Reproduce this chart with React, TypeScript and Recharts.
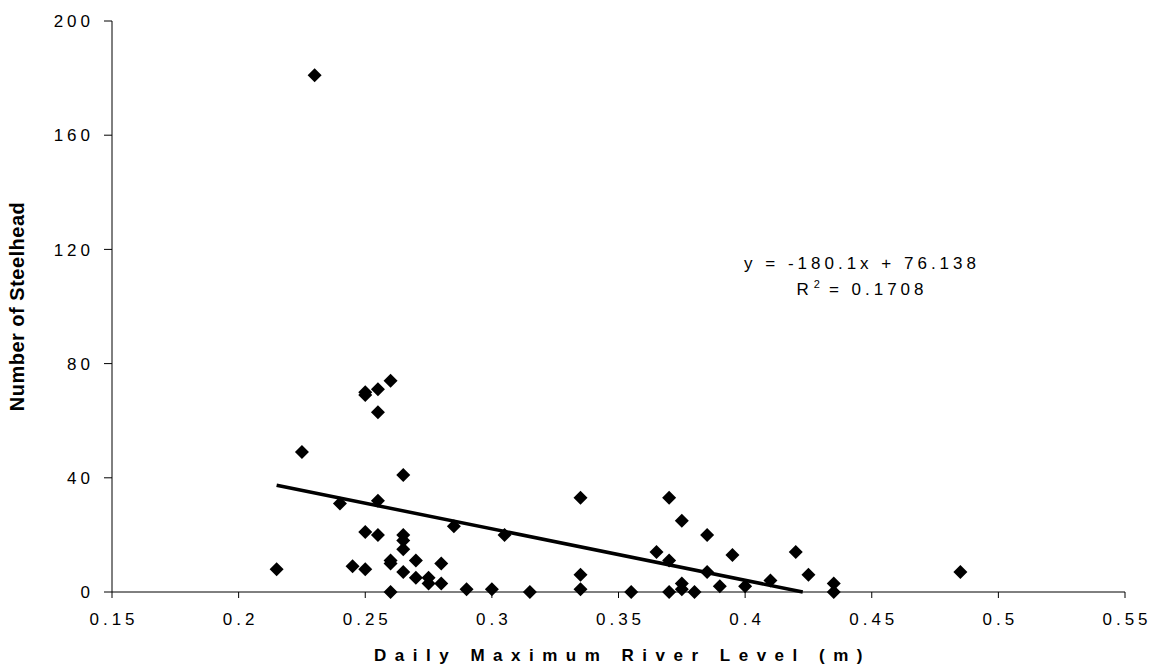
import React from 'react';
import { ScatterChart, Scatter, XAxis, YAxis, Label } from 'recharts';

// daily max river level (m) vs number of steelhead, one entry per day
const levels = [
  0.215, 0.225, 0.23, 0.24, 0.245, 0.25, 0.25, 0.25, 0.25, 0.255,
  0.255, 0.255, 0.255, 0.26, 0.26, 0.26, 0.26, 0.265, 0.265, 0.265,
  0.265, 0.265, 0.27, 0.27, 0.275, 0.275, 0.28, 0.28, 0.285, 0.29,
  0.3, 0.305, 0.315, 0.335, 0.335, 0.335, 0.355, 0.365, 0.37, 0.37,
  0.37, 0.375, 0.375, 0.375, 0.38, 0.385, 0.385, 0.39, 0.395, 0.4,
  0.41, 0.42, 0.425, 0.435, 0.435, 0.485,
];
const counts = [
  8, 49, 181, 31, 9, 69, 70, 21, 8, 71,
  63, 32, 20, 74, 11, 10, 0, 41, 20, 18,
  15, 7, 11, 5, 5, 3, 10, 3, 23, 1,
  1, 20, 0, 33, 6, 1, 0, 14, 33, 11,
  0, 25, 3, 1, 0, 20, 7, 2, 13, 2,
  4, 14, 6, 3, 0, 7,
];
const xTicks = [0.15, 0.2, 0.25, 0.3, 0.35, 0.4, 0.45, 0.5, 0.55];
const yTicks = [0, 40, 80, 120, 160, 200];

// linear trendline reported on the chart
const slope = -180.1;
const intercept = 76.138;
const rSquared = '0.1708';

const points = levels.map((x, i) => ({ x, y: counts[i] }));
const xStart = Math.min(...levels);
// Excel stops the line where it leaves the plot at y = 0
const trend = [
  { x: xStart, y: slope * xStart + intercept },
  { x: -intercept / slope, y: 0 },
];

const W = 1153;
const H = 668;
const margin = { top: 21, right: 28, bottom: 0, left: 0 };
const yAxisW = 112;
const xAxisH = 76;

const FONT = '"Liberation Sans", Arial, sans-serif';
const LS = 4;
const tickStyle: React.CSSProperties = { fontFamily: FONT, fontSize: 17, letterSpacing: LS, fill: '#000' };

const Diamond = (props: any) => {
  const { cx, cy } = props;
  if (cx == null || cy == null) return <g />;
  return (
    <polygon
      points={`${cx},${cy - 7} ${cx + 7},${cy} ${cx},${cy + 7} ${cx - 7},${cy}`}
      fill="#000"
    />
  );
};

const XTick = ({ x, y, payload }: any) => (
  <text x={x} y={y} dx={LS / 2} dy="0.71em" textAnchor="middle" style={tickStyle}>
    {String(payload.value)}
  </text>
);

const YTick = ({ x, y, payload }: any) => (
  <text x={x} y={y} dx={LS} dy="0.36em" textAnchor="end" style={tickStyle}>
    {String(payload.value)}
  </text>
);

const XTitle = ({ viewBox }: any) => {
  const cx = viewBox.x + viewBox.width / 2;
  return (
    <text
      x={cx + 4}
      y={viewBox.y + 63}
      dy="0.36em"
      textAnchor="middle"
      style={{ fontFamily: FONT, fontSize: 17, fontWeight: 'bold', letterSpacing: 8.5, fill: '#000' }}
    >
      Daily Maximum River Level (m)
    </text>
  );
};

const YTitle = ({ viewBox }: any) => {
  const cx = 17;
  const cy = viewBox.y + viewBox.height / 2;
  return (
    <text
      x={cx}
      y={cy}
      dy="0.36em"
      textAnchor="middle"
      transform={`rotate(-90, ${cx}, ${cy})`}
      style={{ fontFamily: FONT, fontSize: 20, fontWeight: 'bold', letterSpacing: 0.5, fill: '#000' }}
    >
      Number of Steelhead
    </text>
  );
};

export default function App() {
  return (
    <div style={{ position: 'absolute', left: 0, top: 0, width: W, height: H, background: '#fff' }}>
      <ScatterChart width={W} height={H} margin={margin}>
        <XAxis
          type="number"
          dataKey="x"
          domain={[0.15, 0.55]}
          ticks={xTicks}
          height={xAxisH}
          allowDataOverflow
          stroke="#000"
          tickSize={6}
          tickMargin={15}
          tick={<XTick />}
        >
          <Label content={<XTitle />} />
        </XAxis>
        <YAxis
          type="number"
          dataKey="y"
          domain={[0, 200]}
          ticks={yTicks}
          width={yAxisW}
          stroke="#000"
          tickSize={8}
          tickMargin={14}
          tick={<YTick />}
        >
          <Label content={<YTitle />} />
        </YAxis>
        <Scatter data={points} shape={<Diamond />} isAnimationActive={false} />
        <Scatter
          data={trend}
          line={{ stroke: '#000', strokeWidth: 3.5 }}
          shape={() => <g />}
          isAnimationActive={false}
        />
      </ScatterChart>
      <div
        style={{
          position: 'absolute',
          left: 662,
          top: 251,
          width: 400,
          textAlign: 'center',
          fontFamily: FONT,
          fontSize: 17,
          letterSpacing: LS,
          lineHeight: '26px',
          color: '#000',
        }}
      >
        <div>y = {slope}x + {intercept}</div>
        <div>
          R<sup style={{ fontSize: 11, letterSpacing: 0, verticalAlign: 'top', lineHeight: '14px', marginLeft: 1, marginRight: 9 }}>2</sup>= {rSquared}
        </div>
      </div>
    </div>
  );
}
